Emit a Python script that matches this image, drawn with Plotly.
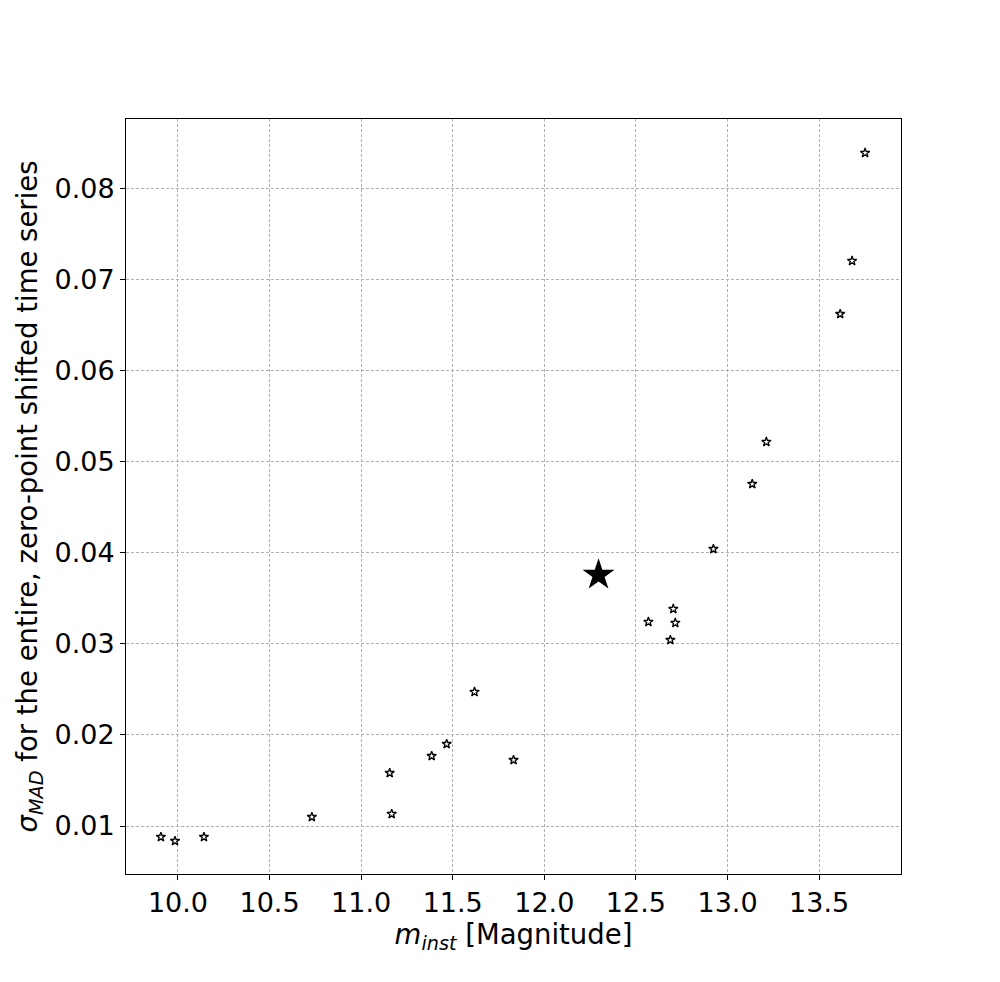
import plotly.graph_objects as go

m_inst = [9.907, 9.984, 10.142, 10.731, 11.156, 11.167, 11.385, 11.467, 11.619, 11.832,
          12.568, 12.704, 12.715, 12.688, 12.923, 13.135, 13.212, 13.615, 13.680, 13.751]
sigma_mad = [0.00879, 0.00835, 0.00879, 0.01099, 0.01582, 0.01132, 0.01769, 0.01901, 0.02473, 0.01725,
             0.03242, 0.03385, 0.03231, 0.03044, 0.04044, 0.04758, 0.05220, 0.06626, 0.07209, 0.08396]
target_m = [12.296]
target_sigma = [0.03758]

x_ticks = [10.0, 10.5, 11.0, 11.5, 12.0, 12.5, 13.0, 13.5]
y_ticks = [0.01, 0.02, 0.03, 0.04, 0.05, 0.06, 0.07, 0.08]

fig = go.Figure()
fig.add_trace(go.Scatter(x=m_inst, y=sigma_mad, mode="markers",
                         marker=dict(symbol="star-open", size=7, color="black",
                                     line=dict(width=1.3, color="black")),
                         showlegend=False))
fig.add_trace(go.Scatter(x=target_m, y=target_sigma, mode="markers",
                         marker=dict(symbol="star", size=24, color="black"),
                         showlegend=False))

axis_common = dict(showline=True, linecolor="black", linewidth=1, mirror=True,
                   ticks="outside", ticklen=5, tickcolor="black", automargin=False,
                   showgrid=True, gridcolor="#b0b0b0", griddash="3px,2px", gridwidth=1,
                   zeroline=False, tickfont=dict(family="DejaVu Sans", size=27, color="black"))

fig.update_layout(
    width=1000, height=982,
    paper_bgcolor="white", plot_bgcolor="white",
    margin=dict(l=118, r=107, t=111, b=116),
    font=dict(family="DejaVu Sans", color="black"),
    xaxis=dict(range=[9.7165, 13.947], tickvals=x_ticks,
               ticktext=[f"{v:.1f}" for v in x_ticks],
               title=dict(text="<i>m</i><sub><i>inst</i></sub> [Magnitude]",
                          font=dict(size=27.5), standoff=5),
               **axis_common),
    yaxis=dict(range=[0.004725, 0.08769], tickvals=y_ticks,
               ticktext=[f"{v:.2f}" for v in y_ticks],
               title=dict(text="<i>σ</i><sub><i>MAD</i></sub> for the entire, zero-point shifted time series",
                          font=dict(size=27.5), standoff=8),
               **axis_common),
)

fig.write_html("out.html")
